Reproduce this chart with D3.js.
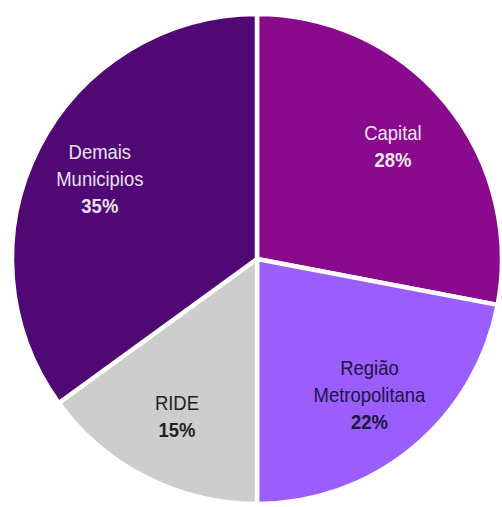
<!DOCTYPE html>
<html>
<head>
<meta charset="utf-8">
<script src="https://cdn.jsdelivr.net/npm/d3@7"></script>
<style>
  html, body { margin: 0; padding: 0; background: #ffffff; }
  svg { display: block; }
</style>
</head>
<body>
<svg id="chart" width="502" height="507"></svg>
<script>
// Share of the total by region
const categories = ["Capital", "Região Metropolitana", "RIDE", "Demais Municipios"];
const labelLines = [["Capital"], ["Região", "Metropolitana"], ["RIDE"], ["Demais", "Municipios"]];
const values = [28, 22, 15, 35];
const valueLabels = ["28%", "22%", "15%", "35%"];
const sliceColors = ["#890a8c", "#9a5dfe", "#cdcdcd", "#4f0874"];
const textColors = ["#f6e6f6", "#1d1542", "#222222", "#ece0f4"];

const width = 502, height = 507;
const cx = 257, cy = 259, radius = 245;

const svg = d3.select("#chart");
const g = svg.append("g").attr("transform", `translate(${cx},${cy})`);

const data = categories.map((c, i) => ({ name: c, value: values[i], i }));

const pie = d3.pie().sort(null).value(d => d.value).startAngle(0).endAngle(2 * Math.PI);
const arcs = pie(data);

const arc = d3.arc().innerRadius(0).outerRadius(radius);
const labelArc = d3.arc().innerRadius(radius * 0.72).outerRadius(radius * 0.72);

g.selectAll("path.slice")
  .data(arcs)
  .join("path")
  .attr("class", "slice")
  .attr("d", arc)
  .attr("fill", d => sliceColors[d.data.i])
  .attr("stroke", "#ffffff")
  .attr("stroke-width", 4.5)
  .attr("stroke-linejoin", "round");

// Labels use a slightly condensed face
const lineH = 27;
const labels = g.selectAll("g.label")
  .data(arcs)
  .join("g")
  .attr("class", "label")
  .attr("transform", d => {
    const [x, y] = labelArc.centroid(d);
    return `translate(${x},${y}) scale(0.9,1)`;
  });

labels.each(function (d) {
  const sel = d3.select(this);
  const lines = labelLines[d.data.i];
  const n = lines.length + 1;
  const top = -((n - 1) * lineH) / 2;
  const t = sel.append("text")
    .attr("text-anchor", "middle")
    .attr("font-family", "'Liberation Sans', Arial, sans-serif")
    .attr("font-size", 20.5)
    .attr("fill", textColors[d.data.i]);
  lines.forEach((ln, k) => {
    t.append("tspan")
      .attr("x", 0)
      .attr("y", top + k * lineH)
      .attr("dy", "0.35em")
      .text(ln);
  });
  t.append("tspan")
    .attr("x", 0)
    .attr("y", top + lines.length * lineH)
    .attr("dy", "0.35em")
    .attr("font-weight", "bold")
    .text(valueLabels[d.data.i]);
});
</script>
</body>
</html>
